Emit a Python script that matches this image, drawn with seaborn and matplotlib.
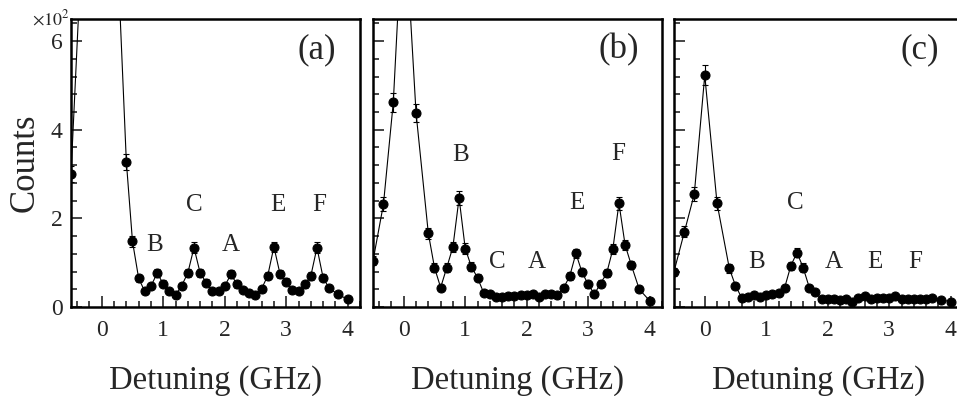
import numpy as np
import pandas as pd
import matplotlib
matplotlib.use("Agg")
import matplotlib.pyplot as plt
from matplotlib.ticker import MultipleLocator
import seaborn as sns

# ---------------- DATA (counts in units of 10^2) ----------------
x_a = [-0.5, -0.33, -0.17, 0.0, 0.2, 0.4, 0.5, 0.6, 0.7, 0.8, 0.9, 1.0,
       1.1, 1.2, 1.3, 1.4, 1.5, 1.6, 1.7, 1.8, 1.9, 2.0, 2.1, 2.2, 2.3,
       2.4, 2.5, 2.6, 2.7, 2.8, 2.9, 3.0, 3.1, 3.2, 3.3, 3.4, 3.5, 3.6,
       3.7, 3.84, 4.0]
y_a = [3.0, 8.0, 14.0, 18.0, 9.8, 3.28, 1.48, 0.65, 0.35, 0.47, 0.76, 0.53,
       0.35, 0.27, 0.48, 0.77, 1.34, 0.77, 0.55, 0.35, 0.35, 0.47, 0.74, 0.51,
       0.39, 0.31, 0.28, 0.41, 0.71, 1.36, 0.74, 0.57, 0.38, 0.35, 0.51, 0.70,
       1.34, 0.66, 0.42, 0.29, 0.17]

x_b = [-0.5, -0.33, -0.17, 0.0, 0.2, 0.4, 0.5, 0.6, 0.7, 0.8, 0.9, 1.0,
       1.1, 1.2, 1.3, 1.4, 1.5, 1.6, 1.7, 1.8, 1.9, 2.0, 2.1, 2.2, 2.3,
       2.4, 2.5, 2.6, 2.7, 2.8, 2.9, 3.0, 3.1, 3.2, 3.3, 3.4, 3.5, 3.6,
       3.7, 3.83, 4.0]
y_b = [1.04, 2.32, 4.62, 9.2, 4.38, 1.66, 0.89, 0.44, 0.89, 1.36, 2.46, 1.32,
       0.91, 0.66, 0.32, 0.29, 0.23, 0.23, 0.24, 0.25, 0.26, 0.27, 0.30, 0.22,
       0.29, 0.29, 0.26, 0.43, 0.70, 1.21, 0.78, 0.51, 0.29, 0.53, 0.76, 1.30,
       2.34, 1.40, 0.95, 0.40, 0.14]

x_c = [-0.5, -0.33, -0.17, 0.0, 0.2, 0.4, 0.5, 0.6, 0.7, 0.8, 0.9, 1.0,
       1.1, 1.2, 1.3, 1.4, 1.5, 1.6, 1.7, 1.8, 1.9, 2.0, 2.1, 2.2, 2.3,
       2.4, 2.5, 2.6, 2.7, 2.8, 2.9, 3.0, 3.1, 3.2, 3.3, 3.4, 3.5, 3.6,
       3.7, 3.85, 4.0]
y_c = [0.80, 1.70, 2.55, 5.23, 2.34, 0.87, 0.48, 0.21, 0.22, 0.27, 0.22, 0.27,
       0.29, 0.31, 0.44, 0.93, 1.23, 0.89, 0.44, 0.33, 0.18, 0.18, 0.17, 0.16,
       0.18, 0.11, 0.20, 0.24, 0.19, 0.20, 0.20, 0.21, 0.24, 0.19, 0.18, 0.17,
       0.18, 0.19, 0.21, 0.16, 0.12]

# peak labels: (text, x, y)
labels_a = [("B", 0.86, 1.4), ("C", 1.5, 2.3), ("A", 2.1, 1.4), ("E", 2.86, 2.3), ("F", 3.54, 2.3)]
labels_b = [("B", 0.92, 3.43), ("C", 1.52, 1.02), ("A", 2.16, 1.02), ("E", 2.81, 2.34), ("F", 3.49, 3.45)]
labels_c = [("B", 0.85, 1.02), ("C", 1.48, 2.34), ("A", 2.10, 1.02), ("E", 2.77, 1.02), ("F", 3.43, 1.02)]

panels = [("(a)", x_a, y_a, labels_a),
          ("(b)", x_b, y_b, labels_b),
          ("(c)", x_c, y_c, labels_c)]

# ---------------- STYLE ----------------
sns.set_theme(style="ticks")
plt.rcParams["font.family"] = ["Liberation Serif", "DejaVu Serif"]
plt.rcParams["mathtext.fontset"] = "stix"

fig = plt.figure(figsize=(9.57, 3.96), dpi=100)

lefts = [71, 373, 674]
W, H = 957, 396
ax_w, ax_bot, ax_top = 289, 307, 19

for i, (tag, xs, ys, pk) in enumerate(panels):
    ax = fig.add_axes([lefts[i] / W, (H - ax_bot) / H, ax_w / W, (ax_bot - ax_top) / H])
    df = pd.DataFrame({"detuning": xs, "counts": ys})
    # Poisson errors from counts (values are in units of 10^2)
    df["err"] = np.sqrt(df["counts"] * 100) / 100

    sns.lineplot(data=df, x="detuning", y="counts", ax=ax, color="black",
                 linewidth=0.8, marker="o", markersize=6.5, markeredgecolor="black",
                 estimator=None, sort=False)
    ax.errorbar(df["detuning"], df["counts"], yerr=df["err"], fmt="none",
                ecolor="black", elinewidth=0.8, capsize=2.5, capthick=0.8)

    ax.set_xlim(-0.5, 4.2)
    ax.set_ylim(0, 6.5)
    ax.xaxis.set_major_locator(MultipleLocator(1))
    ax.xaxis.set_minor_locator(MultipleLocator(0.2))
    ax.yaxis.set_major_locator(MultipleLocator(2))
    ax.yaxis.set_minor_locator(MultipleLocator(0.4))
    ax.tick_params(which="both", direction="in", top=False, right=False,
                   width=1.2, labelsize=17)
    ax.tick_params(axis="x", pad=9)
    ax.tick_params(axis="y", pad=6)
    ax.tick_params(which="major", length=8)
    ax.tick_params(which="minor", length=4)
    for s in ax.spines.values():
        s.set_linewidth(1.8)
        s.set_color("black")

    ax.set_xlabel("Detuning (GHz)", fontsize=23.5, labelpad=18)
    if i == 0:
        ax.set_ylabel("Counts", fontsize=25)
        ax.yaxis.set_label_coords(-0.10, 0.5)
        ax.text(-0.003, 0.979, r"$\times10^2$", transform=ax.transAxes,
                ha="right", va="baseline", fontsize=13)
    else:
        ax.set_ylabel("")
        ax.tick_params(labelleft=False)

    ax.text(3.5, 5.8, tag, fontsize=25, ha="center", va="center")
    for t, px, py in pk:
        ax.text(px, py, t, fontsize=18, ha="center", va="center")

fig.savefig("out.png", dpi=100)
